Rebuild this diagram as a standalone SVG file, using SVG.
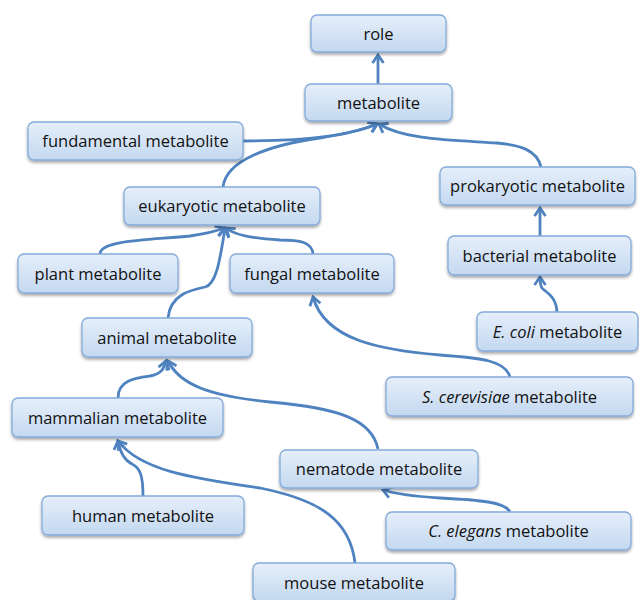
<svg xmlns="http://www.w3.org/2000/svg" width="639" height="600" viewBox="0 0 639 600">
<defs>
<linearGradient id="boxg" x1="0" y1="0" x2="0" y2="1">
<stop offset="0" stop-color="#e6effa"/>
<stop offset="1" stop-color="#c3d8f0"/>
</linearGradient>
<filter id="sh" x="-10%" y="-20%" width="120%" height="150%">
<feGaussianBlur in="SourceAlpha" stdDeviation="1.5"/>
<feOffset dx="0" dy="2" result="b"/>
<feComponentTransfer><feFuncA type="linear" slope="0.35"/></feComponentTransfer>
<feMerge><feMergeNode/><feMergeNode in="SourceGraphic"/></feMerge>
</filter>
<marker id="arr" markerWidth="20" markerHeight="20" refX="0" refY="0" viewBox="-12 -10 20 20" orient="auto" markerUnits="userSpaceOnUse">
<path d="M-8,-5.5 L0,0 L-8,5.5" fill="none" stroke="#4f83c0" stroke-width="2.8" stroke-linejoin="miter"/>
</marker>
</defs>
<style>
.box{fill:url(#boxg);stroke:#84abda;stroke-width:1.3;filter:url(#sh)}
.t{font-family:"Open Sans","Liberation Sans",sans-serif;font-size:16.5px;fill:#111111;text-anchor:middle}
.i{font-style:italic}
.c path{fill:none;stroke:#4f83c0;stroke-width:2.8;marker-end:url(#arr)}
</style>
<rect width="639" height="600" fill="#ffffff"/>
<g class="c" id="connectors">
<path d="M378,84 L378,55"/>
<path d="M243,141 C290,141 345,138 377,124"/>
<path d="M223,187 C226,160 270,145 320,138 C350,133 366,129 377,124"/>
<path d="M541,167 C537,150 520,145 497,143 C450,140 405,140 379,124"/>
<path d="M100,254 C100,240 150,240 190,236 C210,233 217,231 224,228"/>
<path d="M313,254 C312,242 300,240 280,240 C250,238 235,235 226,228"/>
<path d="M168,318 C170,295 190,290 205,287 C218,284 221,250 225,229"/>
<path d="M118,398 C118,380 135,378 150,376 C162,374 164,368 166,361"/>
<path d="M378,449 C372,420 340,408 270,402 C210,396 180,385 168,361"/>
<path d="M510,377 C505,360 480,358 440,355 C380,350 325,340 313,297"/>
<path d="M540,236 L540,208"/>
<path d="M557,312 C556,295 545,292 542,288 C540,285 540,282 540,277"/>
<path d="M143,496 C143,475 140,468 132,464 C124,460 120,452 118,441"/>
<path d="M355,563 C350,520 320,500 260,488 C190,478 140,470 118,441"/>
<path d="M510,512 C505,502 480,500 440,498 C410,496 395,494 383,490"/>
</g>
<g id="role"><rect class="box" x="311" y="15" width="135" height="37" rx="6"/><text class="t" x="378.5" y="39.5">role</text></g>
<g id="metabolite"><rect class="box" x="305" y="84" width="147" height="37" rx="6"/><text class="t" x="378.5" y="108.5">metabolite</text></g>
<g id="fundamental"><rect class="box" x="28" y="122" width="215" height="38" rx="6"/><text class="t" x="135.5" y="147">fundamental metabolite</text></g>
<g id="eukaryotic"><rect class="box" x="124" y="187" width="196" height="38" rx="6"/><text class="t" x="222" y="212">eukaryotic metabolite</text></g>
<g id="prokaryotic"><rect class="box" x="440" y="167" width="195" height="38" rx="6"/><text class="t" x="537.5" y="192">prokaryotic metabolite</text></g>
<g id="plant"><rect class="box" x="18" y="254" width="160" height="39" rx="6"/><text class="t" x="98" y="279.5">plant metabolite</text></g>
<g id="fungal"><rect class="box" x="230" y="254" width="164" height="39" rx="6"/><text class="t" x="312" y="279.5">fungal metabolite</text></g>
<g id="bacterial"><rect class="box" x="448" y="236" width="183" height="39" rx="6"/><text class="t" x="539.5" y="261.5">bacterial metabolite</text></g>
<g id="ecoli"><rect class="box" x="477" y="312" width="161" height="39" rx="6"/><text class="t" x="557.5" y="337.5"><tspan class="i">E. coli</tspan> metabolite</text></g>
<g id="animal"><rect class="box" x="82" y="318" width="170" height="39" rx="6"/><text class="t" x="167" y="343.5">animal metabolite</text></g>
<g id="scerevisiae"><rect class="box" x="386" y="377" width="247" height="39" rx="6"/><text class="t" x="509.5" y="402.5"><tspan class="i">S. cerevisiae</tspan> metabolite</text></g>
<g id="mammalian"><rect class="box" x="12" y="398" width="211" height="39" rx="6"/><text class="t" x="117.5" y="423.5">mammalian metabolite</text></g>
<g id="nematode"><rect class="box" x="280" y="450" width="198" height="38" rx="6"/><text class="t" x="379" y="475">nematode metabolite</text></g>
<g id="human"><rect class="box" x="42" y="496" width="202" height="39" rx="6"/><text class="t" x="143" y="521.5">human metabolite</text></g>
<g id="celegans"><rect class="box" x="386" y="512" width="245" height="38" rx="6"/><text class="t" x="508.5" y="537"><tspan class="i">C. elegans</tspan> metabolite</text></g>
<g id="mouse"><rect class="box" x="253" y="563" width="202" height="38" rx="6"/><text class="t" x="354" y="589">mouse metabolite</text></g>
</svg>
